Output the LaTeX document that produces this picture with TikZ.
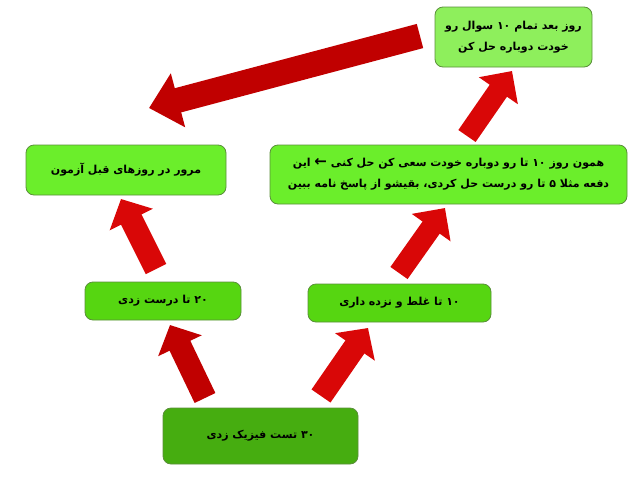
\documentclass[tikz,border=0pt]{standalone}
\usepackage{fontspec}
\newfontfamily\arabicfont[Script=Arabic]{DejaVu Sans}
\TeXXeTstate=1
\usetikzlibrary{arrows.meta}

\definecolor{boxtop}{HTML}{8EEF5C}
\definecolor{boxmid}{HTML}{6BEE2B}
\definecolor{boxlow}{HTML}{56D611}
\definecolor{boxbot}{HTML}{46AD10}
\definecolor{boxline}{HTML}{5A8F3A}
\definecolor{darkred}{HTML}{C00000}
\definecolor{brightred}{HTML}{D90707}

\tikzset{
 box/.style={draw=boxline, line width=.8pt, rounded corners=8pt, align=center,
  inner sep=0pt, font=\arabicfont\bfseries\fontsize{11}{21}\selectfont},
 redarrow/.style={brightred, line width=23pt, -{Triangle[length=23pt,width=47pt]}},
}

\begin{document}
\begin{tikzpicture} [x=1pt,y=-1pt]
\useasboundingbox (0,0) rectangle (642,477);
\node[box, fill=boxtop, minimum width=157, minimum height=60] (redo) at (513.5,37)
 {\beginR روز بعد تمام ۱۰ سوال رو\endR\\\beginR خودت دوباره حل کن\endR};
\node[box, fill=boxmid, minimum width=200, minimum height=50] (review) at (126,170)
 {\beginR مرور در روزهای قبل آزمون\endR};
\node[box, fill=boxmid, minimum width=357, minimum height=59] (sameday) at (448.5,174.5)
 {\beginR همون روز ۱۰ تا رو دوباره خودت سعی کن حل کنی {\fontsize{15}{15}\selectfont ←} این\endR\\\beginR دفعه مثلا ۵ تا رو درست حل کردی، بقیشو از پاسخ نامه ببین\endR};
\node[box, fill=boxlow, minimum width=156, minimum height=38] (right) at (163,301)
 {\beginR ۲۰ تا درست زدی\endR};
\node[box, fill=boxlow, minimum width=183, minimum height=38] (wrong) at (399.5,303)
 {\beginR ۱۰ تا غلط و نزده داری\endR};
\node[box, fill=boxbot, minimum width=195, minimum height=56] (test) at (260.5,436)
 {\beginR ۳۰ تست فیزیک زدی\endR};

% arrow ends
\coordinate (t1) at (205,398); \coordinate (h1) at (170,325);
\coordinate (t2) at (321,396); \coordinate (h2) at (368,328);
\coordinate (t3) at (156,269); \coordinate (h3) at (121,199);
\coordinate (t4) at (399,273); \coordinate (h4) at (445,208);
\coordinate (t5) at (467,136); \coordinate (h5) at (512,71);
\coordinate (t6) at (420,36);  \coordinate (h6) at (149,108);

\draw[redarrow, darkred] (t1) -- (h1);
\draw[redarrow] (t2) -- (h2);
\draw[redarrow] (t3) -- (h3);
\draw[redarrow, line width=21pt, -{Triangle[length=24pt,width=46pt]}] (t4) -- (h4);
\draw[redarrow, line width=21pt, -{Triangle[length=24pt,width=46pt]}] (t5) -- (h5);
\draw[redarrow, darkred, line width=25pt, -{Triangle[length=30pt,width=54pt]}] (t6) -- (h6);
\end{tikzpicture}
\end{document}
